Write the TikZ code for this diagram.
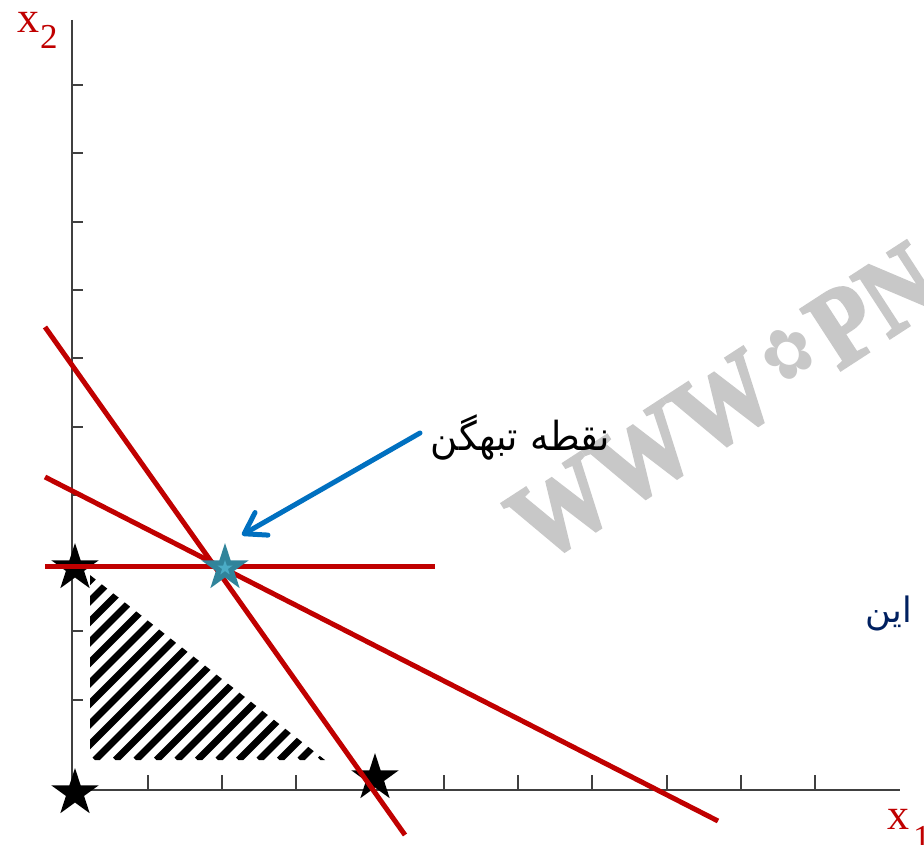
\documentclass[tikz,border=0pt]{standalone}
\usepackage{fontspec}
\setmainfont{Liberation Serif}
\newfontfamily\arabicfont[Script=Arabic]{DejaVu Sans}
\newfontfamily\dvsfont{DejaVu Sans}
\newfontfamily\wmfont[FakeBold=3]{Liberation Serif Bold}
\TeXXeTstate=1
\usetikzlibrary{shapes.geometric,arrows.meta}
\definecolor{lred}{HTML}{C00000}
\definecolor{lblue}{HTML}{0070C0}
\definecolor{navyc}{HTML}{002060}
\definecolor{axisgray}{HTML}{404040}
\definecolor{tealA}{HTML}{31849B}
\definecolor{tealB}{HTML}{4BACC6}
\definecolor{wmgray}{HTML}{C8C8C8}
\begin{document}
\begin{tikzpicture}[x=1pt,y=-1pt,
 axisline/.style={axisgray,line width=2pt},
 tickline/.style={axisgray,line width=2pt},
 cline/.style={lred,line width=5pt},
 hatchline/.style={black,line width=7pt},
 starmark/.style={star,star points=5,star point ratio=2.618,minimum size=50pt,inner sep=0pt,fill=black,draw=none},
 lab/.style={lred,inner sep=0pt,anchor=base west},
]
\useasboundingbox (0,0) rectangle (924,845);
\clip (0,0) rectangle (924,845);

% watermark
\node[wmgray, rotate=33, anchor=base west, inner sep=0pt, font=\wmfont\fontsize{110}{112}\selectfont] (wmark) at (540,565) {\scalebox{0.88}[1]{WWW\hspace{8pt}\raisebox{18pt}{\dvsfont\fontsize{70}{70}\selectfont\char"273F}\hspace{8pt}PN}};

% hatched region
\begin{scope}
\clip (90,575) -- (90,760) -- (325,760) -- cycle;
\foreach \k in {-10,...,12} \draw[hatchline] ({95+20.5*\k},760) -- ++(250,-250);
\end{scope}

% axes
\coordinate (O) at (72,790);
\coordinate (ytop) at (72,20);
\coordinate (xend) at (900,790);
\draw[axisline] (ytop) -- (O) -- (xend);
\foreach \y in {85,153.3,221.6,289.9,358.2,426.5,494.8,563.1,631.4,699.7}
  \draw[tickline] (72,\y) -- ++(11,0);
\foreach \x in {148,222,296,370,444,518,592,667,741,815}
  \draw[tickline] (\x,790) -- ++(0,-15);

% corner stars
\node[starmark] (s1) at (75,568) {};
\node[starmark] (s0) at (75,793) {};
\node[starmark] (s2) at (375,778) {};

% constraint lines
\coordinate (a1) at (45,327); \coordinate (a2) at (405,835);
\coordinate (b1) at (45,477); \coordinate (b2) at (718,821);
\coordinate (c1) at (45,566); \coordinate (c2) at (435,566);
\draw[cline] (a1) -- (a2);
\draw[cline] (b1) -- (b2);
\draw[cline] (c1) -- (c2);

% degenerate point
\node[starmark, fill=tealA] (deg) at (225,568) {};
\node[starmark, fill=tealB, minimum size=16pt] (degin) at (deg.center) {};

% labels
\node[lab, font=\fontsize{44}{48}\selectfont] (x2) at (17,33) {x};
\node[lab, font=\fontsize{35}{40}\selectfont] (x2s) at (40,49) {2};
\node[lab, font=\fontsize{44}{48}\selectfont] (x1) at (887,829) {x};
\node[lab, font=\fontsize{35}{40}\selectfont] (x1s) at (913,849) {1};

\node[inner sep=0pt, anchor=base east, font=\arabicfont\fontsize{40}{44}\selectfont] (deglab) at (610,450) {\scalebox{0.93}[1]{\beginR نقطه تبهگن\endR}};
\node[navyc, inner sep=0pt, anchor=base east, font=\arabicfont\fontsize{35}{40}\selectfont] (ain) at (912,622) {\beginR این\endR};

% arrow
\coordinate (arrtail) at (420,433);
\coordinate (arrtip) at (242,535);
\draw[lblue, line width=5pt, line cap=round, -{Straight Barb[length=20pt 0 0,width=26pt 0 0,line cap=round,line join=round]}] (arrtail) -- (arrtip);
\end{tikzpicture}
\end{document}
